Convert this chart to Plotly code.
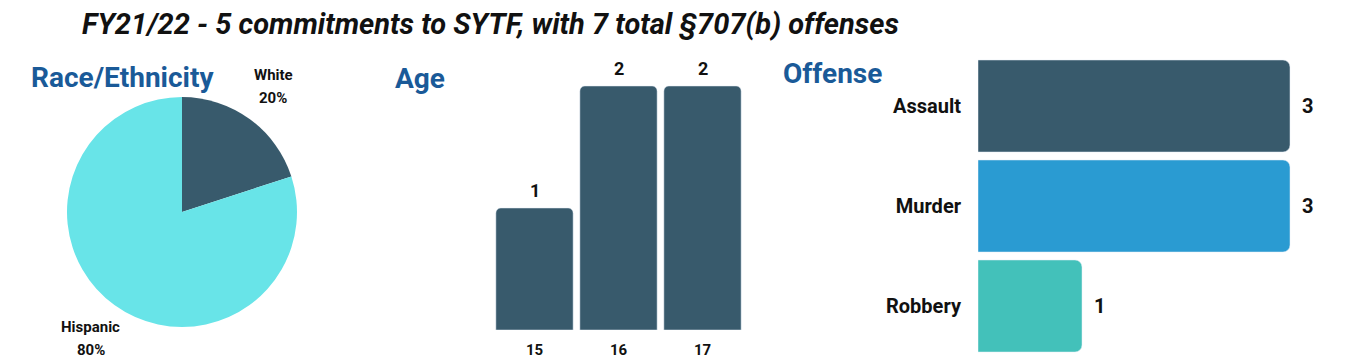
import math
import plotly.graph_objects as go

W, H = 1363, 363

title_text = "FY21/22 - 5 commitments to SYTF, with 7 total §707(b) offenses"

race_labels = ["White", "Hispanic"]
race_values = [1, 4]
race_colors = ["#385A6C", "#68E4E8"]

age_labels = ["15", "16", "17"]
age_values = [1, 2, 2]
age_color = "#385A6C"

offense_labels = ["Assault", "Murder", "Robbery"]
offense_values = [3, 3, 1]
offense_colors = ["#385A6C", "#2A9BD2", "#43C1BA"]

BLUE = "#1A5A98"
DARK = "#111111"
FONT = "Roboto"

def px_x(x):
    return x / W

def px_y(y):
    return (H - y) / H

fig = go.Figure()

# Pie
pie_cx, pie_cy, pie_r = 182, 212, 115
fig.add_trace(go.Pie(
    labels=race_labels, values=race_values, sort=False, direction="clockwise",
    rotation=0, marker=dict(colors=race_colors, line=dict(width=0)),
    textinfo="none", hoverinfo="label+percent", showlegend=False,
    domain=dict(x=[px_x(pie_cx - pie_r), px_x(pie_cx + pie_r)],
                y=[px_y(pie_cy + pie_r), px_y(pie_cy - pie_r)]),
))

# Age bars
fig.add_trace(go.Bar(
    x=age_labels, y=age_values, marker=dict(color=age_color, cornerradius=5),
    xaxis="x", yaxis="y", showlegend=False,
))

# Offense bars
fig.add_trace(go.Bar(
    y=offense_labels, x=offense_values, orientation="h",
    marker=dict(color=offense_colors, cornerradius=7),
    xaxis="x2", yaxis="y2", showlegend=False,
))

age_px_per_unit = 122
age_base = 330
age_top_val = 2.3
offense_x0 = 978
offense_px_per_unit = 104
offense_max = 3.5

annotations = [
    dict(text=f"<b><i>{title_text}</i></b>", x=px_x(80), y=px_y(24), xref="paper", yref="paper",
         xanchor="left", yanchor="middle", showarrow=False,
         font=dict(family=FONT, size=29, color=DARK)),
    dict(text="<b>Race/Ethnicity</b>", x=px_x(29), y=px_y(78), xref="paper", yref="paper",
         xanchor="left", yanchor="middle", showarrow=False,
         font=dict(family=FONT, size=28, color=BLUE)),
    dict(text="<b>Age</b>", x=px_x(393), y=px_y(79), xref="paper", yref="paper",
         xanchor="left", yanchor="middle", showarrow=False,
         font=dict(family=FONT, size=28, color=BLUE)),
    dict(text="<b>Offense</b>", x=px_x(781), y=px_y(74), xref="paper", yref="paper",
         xanchor="left", yanchor="middle", showarrow=False,
         font=dict(family=FONT, size=28, color=BLUE)),
]

# value labels on bars (category positions by index)
for i, v in enumerate(age_values):
    annotations.append(dict(text=f"<b>{v}</b>", x=i, y=v, xref="x", yref="y",
                            xanchor="center", yanchor="middle", yshift=18, showarrow=False,
                            font=dict(family=FONT, size=18, color=DARK)))
for i, v in enumerate(offense_values):
    annotations.append(dict(text=f"<b>{v}</b>", x=v, y=i, xref="x2", yref="y2",
                            xanchor="center", yanchor="middle", xshift=17, showarrow=False,
                            font=dict(family=FONT, size=20, color=DARK)))

# pie labels positioned along slice mid-angles
total = sum(race_values)
cum = 0
for lab, v in zip(race_labels, race_values):
    mid = (cum + v / 2) / total * 2 * math.pi
    cum += v
    lx = pie_cx + 1.35 * pie_r * math.sin(mid)
    ly = pie_cy - 1.35 * pie_r * math.cos(mid)
    pct = round(100 * v / total)
    for txt, dy in ((f"<b>{lab}</b>", -11), (f"<b>{pct}%</b>", 12)):
        annotations.append(dict(text=txt, x=px_x(lx), y=px_y(ly + dy), xref="paper", yref="paper",
                                xanchor="center", yanchor="middle", showarrow=False,
                                font=dict(family=FONT, size=15, color=DARK)))

fig.update_layout(
    width=W, height=H, margin=dict(l=0, r=0, t=0, b=0),
    paper_bgcolor="white", plot_bgcolor="white",
    bargap=0.08,
    font=dict(family=FONT, color=DARK),
    xaxis=dict(domain=[px_x(492.5), px_x(744.5)], type="category", range=[-0.5, len(age_labels) - 0.5],
               showgrid=False, zeroline=False, showline=False, ticks="outside", ticklen=6,
               tickcolor="white",
               tickfont=dict(family=FONT, size=15, color=DARK, weight="bold"), fixedrange=True),
    yaxis=dict(domain=[px_y(age_base), px_y(age_base - age_top_val * age_px_per_unit)],
               range=[0, age_top_val], visible=False, fixedrange=True),
    xaxis2=dict(domain=[px_x(offense_x0), px_x(offense_x0 + offense_max * offense_px_per_unit)],
                range=[0, offense_max], visible=False, anchor="y2", fixedrange=True),
    yaxis2=dict(domain=[px_y(356), px_y(56)], type="category",
                range=[len(offense_labels) - 0.5, -0.5],
                anchor="x2", showgrid=False, zeroline=False, showline=False,
                ticks="outside", ticklen=12, tickcolor="white",
                tickfont=dict(family=FONT, size=20, color=DARK, weight="bold"), fixedrange=True),
    annotations=annotations,
)

fig.write_html("out.html")
